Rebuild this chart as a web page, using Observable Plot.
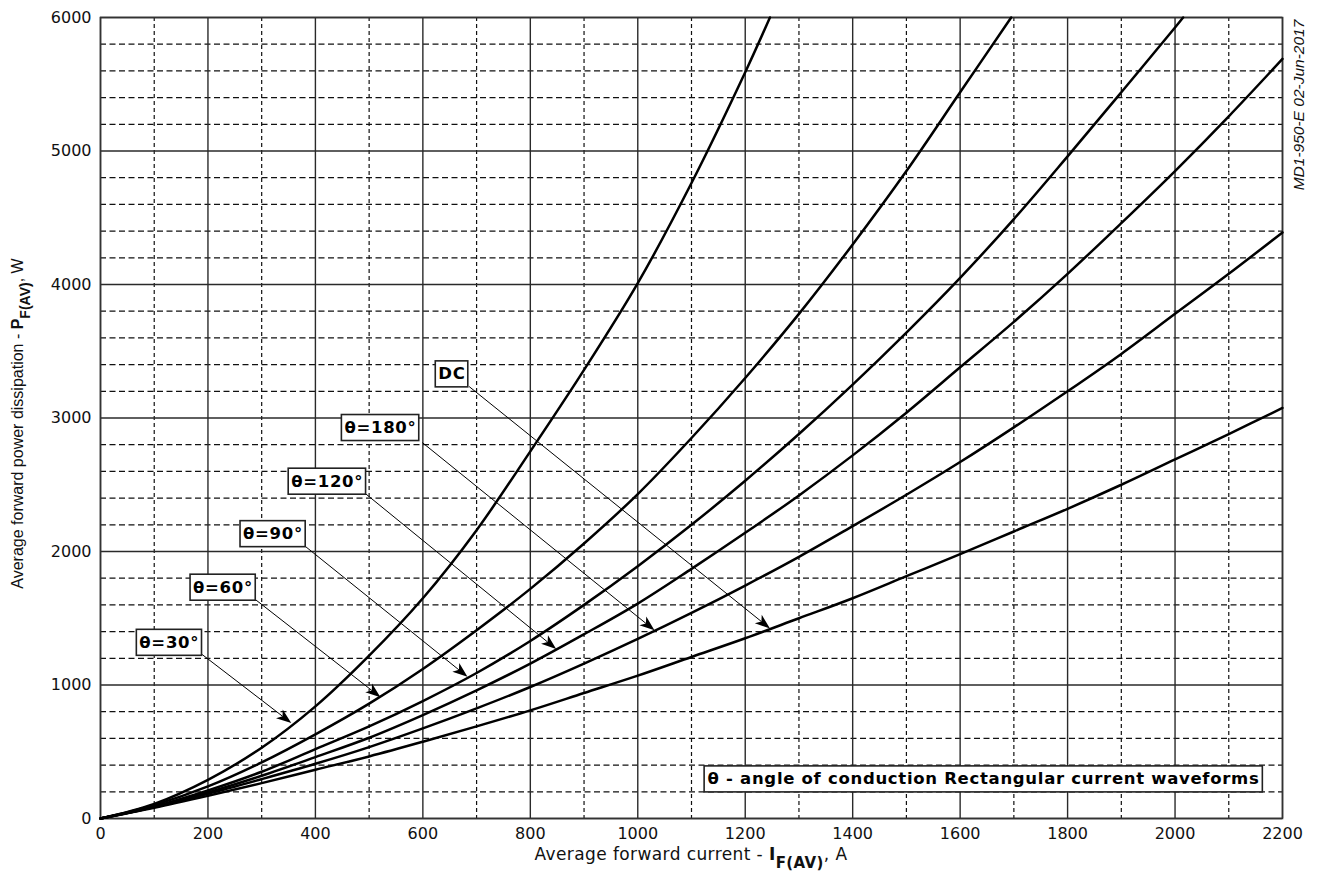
<!DOCTYPE html>
<html>
<head>
<meta charset="utf-8">
<script src="https://cdn.jsdelivr.net/npm/d3@7"></script>
<script src="https://cdn.jsdelivr.net/npm/@observablehq/plot@0.6"></script>
<style>
  html, body { margin: 0; padding: 0; background: #fff; }
  #chart svg { display: block; }
</style>
</head>
<body>
<div id="chart"></div>
<script>
// ---------------- data ----------------
const xTicks = [0, 200, 400, 600, 800, 1000, 1200, 1400, 1600, 1800, 2000, 2200];
const xMinor = [100, 300, 500, 700, 900, 1100, 1300, 1500, 1700, 1900, 2100];
const yTicks = [0, 1000, 2000, 3000, 4000, 5000, 6000];
const yMinor = [200, 400, 600, 800, 1200, 1400, 1600, 1800, 2200, 2400, 2600, 2800,
                3200, 3400, 3600, 3800, 4200, 4400, 4600, 4800, 5200, 5400, 5600, 5800];

// average forward current I_F(AV), A   /   power P_F(AV), W
const theta30Current = [0, 100, 200, 300, 400, 500, 600, 700, 800, 900, 1000, 1100, 1200, 1246];
const theta30Power   = [0, 110, 290, 530, 840, 1220, 1650, 2160, 2750, 3360, 4010, 4760, 5590, 6000];

const theta60Current = [0, 100, 200, 300, 400, 500, 600, 700, 800, 900, 1000, 1100, 1200, 1300, 1400, 1500, 1600, 1695];
const theta60Power   = [0, 100, 240, 420, 630, 860, 1120, 1410, 1720, 2060, 2430, 2850, 3300, 3780, 4300, 4850, 5440, 6000];

const theta90Current = [0, 100, 200, 300, 400, 500, 600, 700, 800, 900, 1000, 1100, 1200, 1300, 1400, 1500, 1600, 1700, 1800, 1900, 2000, 2015];
const theta90Power   = [0, 90, 210, 350, 520, 690, 880, 1090, 1330, 1600, 1890, 2200, 2530, 2880, 3250, 3640, 4050, 4490, 4960, 5440, 5925, 6000];

const theta120Current = [0, 100, 200, 300, 400, 500, 600, 700, 800, 900, 1000, 1100, 1200, 1300, 1400, 1500, 1600, 1700, 1800, 1900, 2000, 2100, 2200];
const theta120Power   = [0, 85, 195, 320, 460, 605, 775, 960, 1160, 1380, 1610, 1870, 2140, 2420, 2720, 3040, 3380, 3720, 4080, 4460, 4850, 5260, 5690];

const theta180Current = [0, 100, 200, 300, 400, 500, 600, 700, 800, 900, 1000, 1100, 1200, 1300, 1400, 1500, 1600, 1700, 1800, 1900, 2000, 2100, 2200];
const theta180Power   = [0, 85, 185, 295, 410, 535, 675, 825, 985, 1160, 1345, 1540, 1745, 1960, 2190, 2425, 2670, 2930, 3200, 3480, 3780, 4080, 4390];

const dcCurrent = [0, 100, 200, 300, 400, 500, 600, 700, 800, 900, 1000, 1100, 1200, 1300, 1400, 1500, 1600, 1700, 1800, 1900, 2000, 2100, 2200];
const dcPower   = [0, 80, 170, 265, 365, 465, 575, 690, 810, 940, 1070, 1210, 1350, 1500, 1650, 1815, 1980, 2150, 2320, 2500, 2690, 2880, 3075];

// annotation labels and their leader arrows (data coordinates)
const labelText   = ["θ=30°", "θ=60°", "θ=90°", "θ=120°", "θ=180°", "DC"];
const labelI      = [128, 228, 321, 422, 521, 654];
const labelP      = [1318, 1731, 2132, 2525, 2927, 3329];
const arrowFromI  = [190, 289, 382, 494, 600, 687];
const arrowFromP  = [1225, 1637, 2035, 2430, 2812, 3232];
const arrowToI    = [356, 522, 684, 849, 1032, 1247];
const arrowToP    = [712, 905, 1058, 1266, 1406, 1420];

const noteText = "θ - angle of conduction Rectangular current waveforms";
const noteI = 1130;
const noteP = 295;

const xTitle = "Average forward current - ";
const yTitle = "Average forward power dissipation - ";
const stamp = "MD1-950-E 02-Jun-2017";

// ---------------- build ----------------
const W = 1319, H = 873;
const mL = 100, mR = 37, mT = 17, mB = 55;

const series = [
  [theta30Current, theta30Power, "θ=30°"],
  [theta60Current, theta60Power, "θ=60°"],
  [theta90Current, theta90Power, "θ=90°"],
  [theta120Current, theta120Power, "θ=120°"],
  [theta180Current, theta180Power, "θ=180°"],
  [dcCurrent, dcPower, "DC"]
];
const rows = series.flatMap(([xs, ys, name]) => xs.map((x, i) => ({current: x, power: ys[i], series: name})));
const idx = labelText.map((_, i) => i);

const chart = Plot.plot({
  width: W, height: H,
  marginLeft: mL, marginRight: mR, marginTop: mT, marginBottom: mB,
  style: {fontFamily: "'DejaVu Sans', sans-serif", fontSize: "16px", color: "#111", background: "#fff"},
  x: {domain: [0, 2200]},
  y: {domain: [0, 6000]},
  marks: [
    Plot.ruleX(xMinor, {stroke: "#111", strokeWidth: 1.2, strokeDasharray: "4,3"}),
    Plot.ruleY(yMinor, {stroke: "#111", strokeWidth: 1.2, strokeDasharray: "6,3.5"}),
    Plot.ruleX(xTicks, {stroke: "#2a2a2a", strokeWidth: 1.4}),
    Plot.ruleY(yTicks, {stroke: "#2a2a2a", strokeWidth: 1.4}),
    Plot.frame({stroke: "#333", strokeWidth: 1.6}),
    Plot.axisX({ticks: xTicks, tickSize: 0, tickPadding: 9, label: null, tickFormat: d => String(d)}),
    Plot.axisY({ticks: yTicks, tickSize: 0, tickPadding: 9, label: null, tickFormat: d => String(d)}),
    Plot.line(rows, {x: "current", y: "power", z: "series", stroke: "#000", strokeWidth: 2.5, curve: "catmull-rom"}),
    Plot.arrow(idx, {
      x1: i => arrowFromI[i], y1: i => arrowFromP[i],
      x2: i => arrowToI[i], y2: i => arrowToP[i],
      stroke: "#000", strokeWidth: 1,
      render(index, scales, values) {
        const {x1, y1, x2, y2} = values;
        const g = d3.create("svg:g");
        for (const i of index) {
          const dx = x2[i] - x1[i], dy = y2[i] - y1[i], len = Math.hypot(dx, dy);
          const ux = dx / len, uy = dy / len, nx = -uy, ny = ux;
          const L = 15, Wd = 5.5, N = 11;
          g.append("line")
            .attr("x1", x1[i]).attr("y1", y1[i])
            .attr("x2", x2[i] - ux * N).attr("y2", y2[i] - uy * N)
            .attr("stroke", "#000").attr("stroke-width", 1);
          const tx = x2[i], ty = y2[i];
          const pts = [
            [tx, ty],
            [tx - ux * L + nx * Wd, ty - uy * L + ny * Wd],
            [tx - ux * N, ty - uy * N],
            [tx - ux * L - nx * Wd, ty - uy * L - ny * Wd]
          ];
          g.append("path").attr("d", "M" + pts.map(p => p.join(",")).join("L") + "Z").attr("fill", "#000");
        }
        return g.node();
      }
    }),
    Plot.text(idx, {
      x: i => labelI[i], y: i => labelP[i], text: i => labelText[i],
      fontWeight: "bold", fontSize: 16.5, fill: "#000"
    }),
    Plot.text([noteText], {
      x: noteI, y: noteP, text: d => d, textAnchor: "start",
      fontWeight: "bold", fontSize: 16.5, fill: "#000"
    })
  ]
});

document.getElementById("chart").appendChild(chart);
const svg = d3.select(chart);

// white boxes behind the bold annotations (found by their text)
const boxedTexts = new Set([...labelText, noteText]);
svg.selectAll("text").each(function () {
  const t = this.textContent;
  if (!boxedTexts.has(t)) return;
  this.setAttribute("letter-spacing", "0.7");
  const bb = this.getBBox();
  const isNote = t === noteText;
  const px = isNote ? 3.5 : 3, py = 3.5;
  const r = document.createElementNS("http://www.w3.org/2000/svg", "rect");
  r.setAttribute("x", bb.x - px);
  r.setAttribute("y", bb.y - py);
  r.setAttribute("width", bb.width + 2 * px - 0.7);
  r.setAttribute("height", bb.height + 2 * py);
  r.setAttribute("fill", "#fff");
  r.setAttribute("stroke", "#222");
  r.setAttribute("stroke-width", 1.6);
  const tf = this.getAttribute("transform");
  if (tf) r.setAttribute("transform", tf);
  this.parentNode.insertBefore(r, this);
});

// x axis title with subscript
const xl = svg.append("text")
  .attr("x", (mL + W - mR) / 2).attr("y", H - 13.5)
  .attr("text-anchor", "middle")
  .attr("font-family", "'DejaVu Sans', sans-serif").attr("font-size", 17).attr("letter-spacing", 0.4).attr("fill", "#111");
xl.append("tspan").text(xTitle);
xl.append("tspan").attr("font-weight", "bold").text("I");
xl.append("tspan").attr("font-weight", "bold").attr("font-size", 15).attr("dy", 8).text("F(AV)");
xl.append("tspan").attr("dy", -8).text(", A");

// y axis title with subscript
const yl = svg.append("text")
  .attr("transform", `translate(22.5,${(mT + H - mB) / 2 + 6}) rotate(-90)`)
  .attr("text-anchor", "middle")
  .attr("font-family", "'Liberation Sans', Arial, sans-serif").attr("font-size", 16).attr("fill", "#111");
yl.append("tspan").text(yTitle);
yl.append("tspan").attr("font-weight", "bold").text("P");
yl.append("tspan").attr("font-weight", "bold").attr("font-size", 14).attr("dy", 7).text("F(AV)");
yl.append("tspan").attr("dy", -7).text(", W");

// document stamp on the right
svg.append("text")
  .attr("transform", `translate(${W - 15},105) rotate(-90)`)
  .attr("text-anchor", "middle")
  .attr("font-family", "'Liberation Sans', Arial, sans-serif").attr("font-style", "italic")
  .attr("font-size", 15.5).attr("fill", "#111")
  .text(stamp);
</script>
</body>
</html>
